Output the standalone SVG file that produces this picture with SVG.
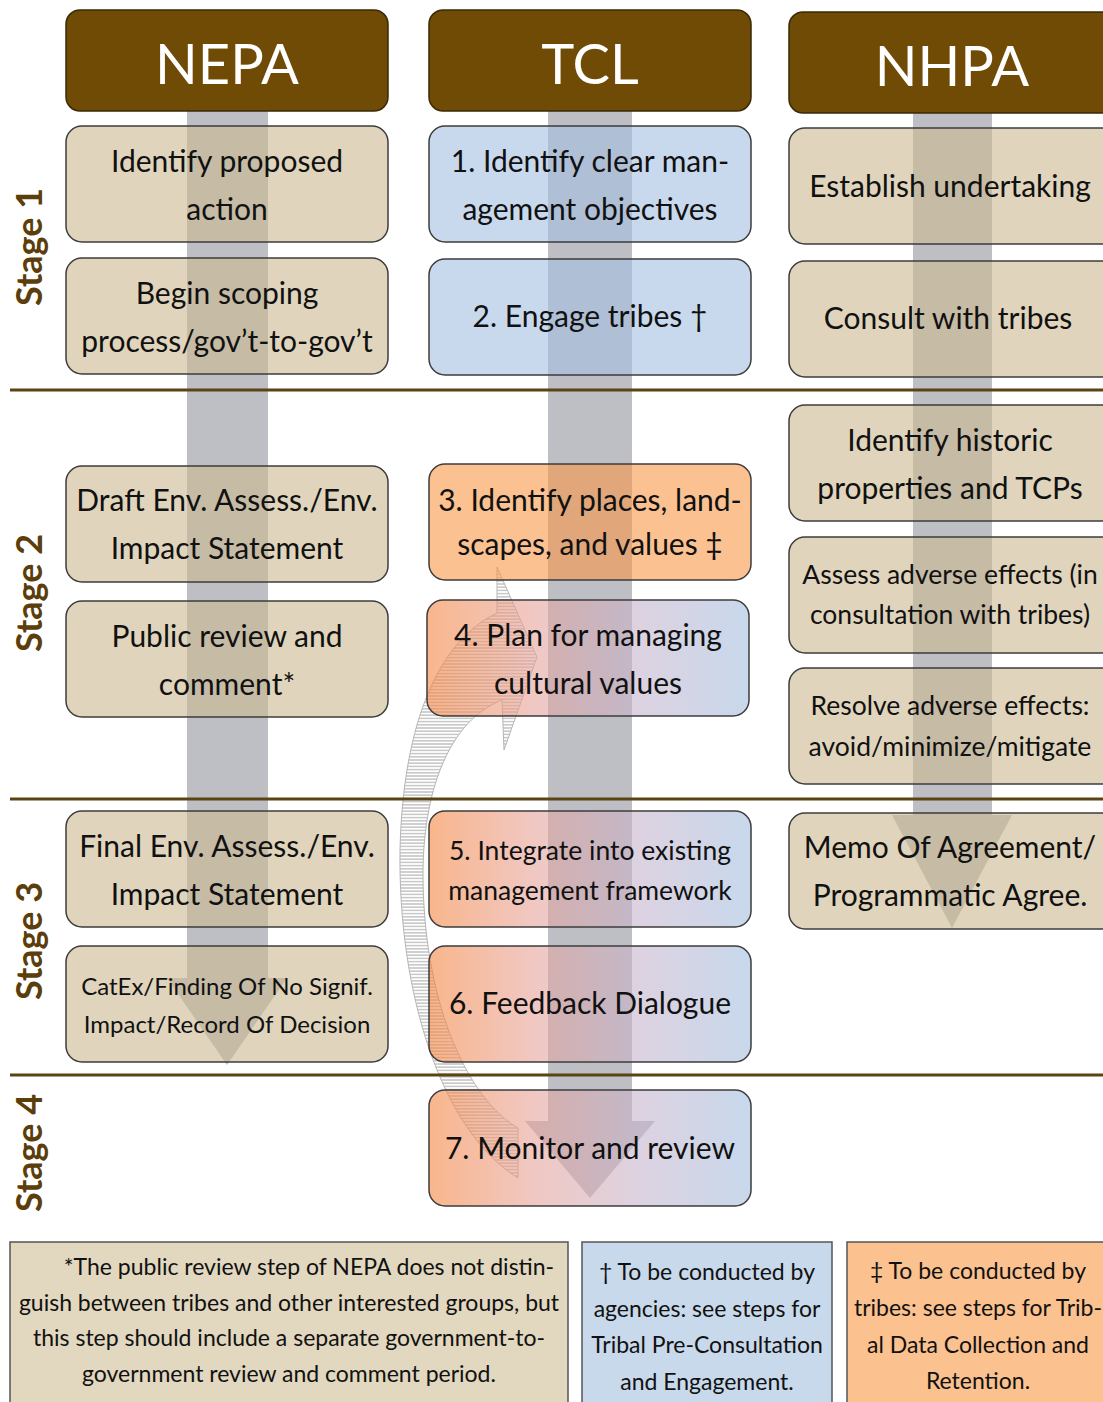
<svg xmlns="http://www.w3.org/2000/svg" width="1103" height="1402" viewBox="0 0 1103 1402">
<style>
.hdr{fill:#6f4b05;stroke:#3a2a08;stroke-width:1.5}
.ht{font-family:Lato,"Open Sans",sans-serif;font-size:56px;fill:#fff;text-anchor:middle}
.box{stroke:#3c3c3c;stroke-width:1.5;fill-opacity:0.6}
.beige{fill:#cbb98f}
.blue{fill:#a5c0e1}
.orange{fill:#f89848}
.grad{fill:url(#og)}
.t{font-family:Lato,"Open Sans",sans-serif;font-size:30px;fill:#111;text-anchor:middle}
.s{font-size:26.5px}
.xs{font-size:24px}
.stage{font-family:Lato,"Open Sans",sans-serif;font-weight:bold;font-size:36px;fill:#5b3e0c;text-anchor:middle}
.div{stroke:#5a4413;stroke-width:3}
.shaft{fill:#bebfc5}
.fn{stroke:#555;stroke-width:1.5}
.ft{font-family:Lato,"Open Sans",sans-serif;font-size:23px;fill:#111;text-anchor:middle}
</style>
<defs>
<linearGradient id="og" x1="0" y1="0" x2="1" y2="0">
<stop offset="0" stop-color="#f5853f"/>
<stop offset="0.33" stop-color="#e6a39b"/>
<stop offset="0.66" stop-color="#c5b4cd"/>
<stop offset="1" stop-color="#a3bedf"/>
</linearGradient>
<pattern id="hatch" width="6" height="3.2" patternUnits="userSpaceOnUse">
<rect width="6" height="3.2" fill="#fff"/>
<line x1="0" y1="1.6" x2="6" y2="1.6" stroke="#a0a0a0" stroke-width="0.9"/>
</pattern>
</defs>
<rect width="1103" height="1402" fill="#fff"/>

<g id="connectors">
<path class="shaft" d="M187,111 L268,111 L268,978 L287,978 L227,1065 L167,978 L187,978 Z"/>
<path class="shaft" d="M548,111 L632,111 L632,1121 L655,1121 L590,1198 L525,1121 L548,1121 Z"/>
<path class="shaft" d="M913,113 L992,113 L992,815 L1012,815 L952,928 L892,815 L913,815 Z"/>
<path id="feedback-arrow" d="M497,613 C440,640 403,720 400,850 C398,990 440,1130 518,1178 L518,1128 C470,1100 425,1010 423,880 C422,790 450,720 502,700 L504,750 L537,657 L497,567 Z" fill="url(#hatch)" stroke="#b5b5b5" stroke-width="1"/>
</g>

<g id="dividers">
<line class="div" x1="10" y1="390" x2="1103" y2="390"/>
<line class="div" x1="10" y1="799" x2="1103" y2="799"/>
<line class="div" x1="10" y1="1075" x2="1103" y2="1075"/>
</g>

<g id="stages">
<text class="stage" transform="translate(42,247) rotate(-90)">Stage 1</text>
<text class="stage" transform="translate(42,593) rotate(-90)">Stage 2</text>
<text class="stage" transform="translate(42,941) rotate(-90)">Stage 3</text>
<text class="stage" transform="translate(42,1153) rotate(-90)">Stage 4</text>
</g>

<g id="hdr-nepa"><rect class="hdr" x="66" y="10" width="322" height="101" rx="14"/><text class="ht" x="227" y="84">NEPA</text></g>
<g id="hdr-tcl"><rect class="hdr" x="429" y="10" width="322" height="101" rx="14"/><text class="ht" x="590" y="84">TCL</text></g>
<g id="hdr-nhpa"><rect class="hdr" x="789" y="12" width="330" height="101" rx="14"/><text class="ht" x="952" y="86">NHPA</text></g>

<g id="nepa-1"><rect class="box beige" x="66" y="126" width="322" height="116" rx="16"/><text class="t" x="227" y="172">Identify proposed</text><text class="t" x="227" y="220">action</text></g>
<g id="nepa-2"><rect class="box beige" x="66" y="258" width="322" height="116" rx="16"/><text class="t" x="227" y="304">Begin scoping</text><text class="t" x="227" y="352">process/gov’t-to-gov’t</text></g>
<g id="nepa-3"><rect class="box beige" x="66" y="466" width="322" height="116" rx="16"/><text class="t" x="227" y="511">Draft Env. Assess./Env.</text><text class="t" x="227" y="559">Impact Statement</text></g>
<g id="nepa-4"><rect class="box beige" x="66" y="601" width="322" height="116" rx="16"/><text class="t" x="227" y="647">Public review and</text><text class="t" x="227" y="695">comment*</text></g>
<g id="nepa-5"><rect class="box beige" x="66" y="811" width="322" height="116" rx="16"/><text class="t" x="227" y="857">Final Env. Assess./Env.</text><text class="t" x="227" y="905">Impact Statement</text></g>
<g id="nepa-6"><rect class="box beige" x="66" y="946" width="322" height="116" rx="16"/><text class="t xs" x="227" y="995">CatEx/Finding Of No Signif.</text><text class="t xs" x="227" y="1033">Impact/Record Of Decision</text></g>

<g id="tcl-1"><rect class="box blue" x="429" y="126" width="322" height="116" rx="16"/><text class="t" x="590" y="172">1. Identify clear man-</text><text class="t" x="590" y="220">agement objectives</text></g>
<g id="tcl-2"><rect class="box blue" x="429" y="259" width="322" height="116" rx="16"/><text class="t" x="590" y="327">2. Engage tribes †</text></g>
<g id="tcl-3"><rect class="box orange" x="429" y="464" width="322" height="116" rx="16"/><text class="t" x="590" y="511">3. Identify places, land-</text><text class="t" x="590" y="555">scapes, and values ‡</text></g>
<g id="tcl-4"><rect class="box grad" x="427" y="600" width="322" height="116" rx="16"/><text class="t" x="588" y="646">4. Plan for managing</text><text class="t" x="588" y="694">cultural values</text></g>
<g id="tcl-5"><rect class="box grad" x="429" y="811" width="322" height="116" rx="16"/><text class="t s" x="590" y="860">5. Integrate into existing</text><text class="t s" x="590" y="900">management framework</text></g>
<g id="tcl-6"><rect class="box grad" x="429" y="946" width="322" height="116" rx="16"/><text class="t" x="590" y="1014">6. Feedback Dialogue</text></g>
<g id="tcl-7"><rect class="box grad" x="429" y="1090" width="322" height="116" rx="16"/><text class="t" x="590" y="1159">7. Monitor and review</text></g>

<g id="nhpa-1"><rect class="box beige" x="789" y="128" width="330" height="116" rx="16"/><text class="t" x="950" y="197">Establish undertaking</text></g>
<g id="nhpa-2"><rect class="box beige" x="789" y="261" width="330" height="116" rx="16"/><text class="t" x="948" y="329">Consult with tribes</text></g>
<g id="nhpa-3"><rect class="box beige" x="789" y="405" width="330" height="116" rx="16"/><text class="t" x="950" y="451">Identify historic</text><text class="t" x="950" y="499">properties and TCPs</text></g>
<g id="nhpa-4"><rect class="box beige" x="789" y="537" width="330" height="116" rx="16"/><text class="t s" x="950" y="584">Assess adverse effects (in</text><text class="t s" x="950" y="624">consultation with tribes)</text></g>
<g id="nhpa-5"><rect class="box beige" x="789" y="668" width="330" height="116" rx="16"/><text class="t s" x="950" y="715">Resolve adverse effects:</text><text class="t s" x="950" y="756">avoid/minimize/mitigate</text></g>
<g id="nhpa-6"><rect class="box beige" x="789" y="813" width="330" height="116" rx="16"/><text class="t" x="950" y="858">Memo Of Agreement/</text><text class="t" x="950" y="906">Programmatic Agree.</text></g>

<g id="note-nepa"><rect class="fn" x="10" y="1242" width="558" height="170" fill="#e2d7bf"/>
<text class="ft" x="309" y="1275">*The public review step of NEPA does not distin-</text>
<text class="ft" x="289" y="1311">guish between tribes and other interested groups, but</text>
<text class="ft" x="289" y="1346">this step should include a separate government-to-</text>
<text class="ft" x="289" y="1382">government review and comment period.</text></g>
<g id="note-dagger"><rect class="fn" x="582" y="1242" width="250" height="170" fill="#c8d9ec"/>
<text class="ft" x="707" y="1280">† To be conducted by</text>
<text class="ft" x="707" y="1317">agencies: see steps for</text>
<text class="ft" x="707" y="1353">Tribal Pre-Consultation</text>
<text class="ft" x="707" y="1390">and Engagement.</text></g>
<g id="note-ddagger"><rect class="fn" x="847" y="1242" width="270" height="170" fill="#fbc18f"/>
<text class="ft" x="978" y="1279">‡ To be conducted by</text>
<text class="ft" x="978" y="1316">tribes: see steps for Trib-</text>
<text class="ft" x="978" y="1353">al Data Collection and</text>
<text class="ft" x="978" y="1389">Retention.</text></g>
</svg>
